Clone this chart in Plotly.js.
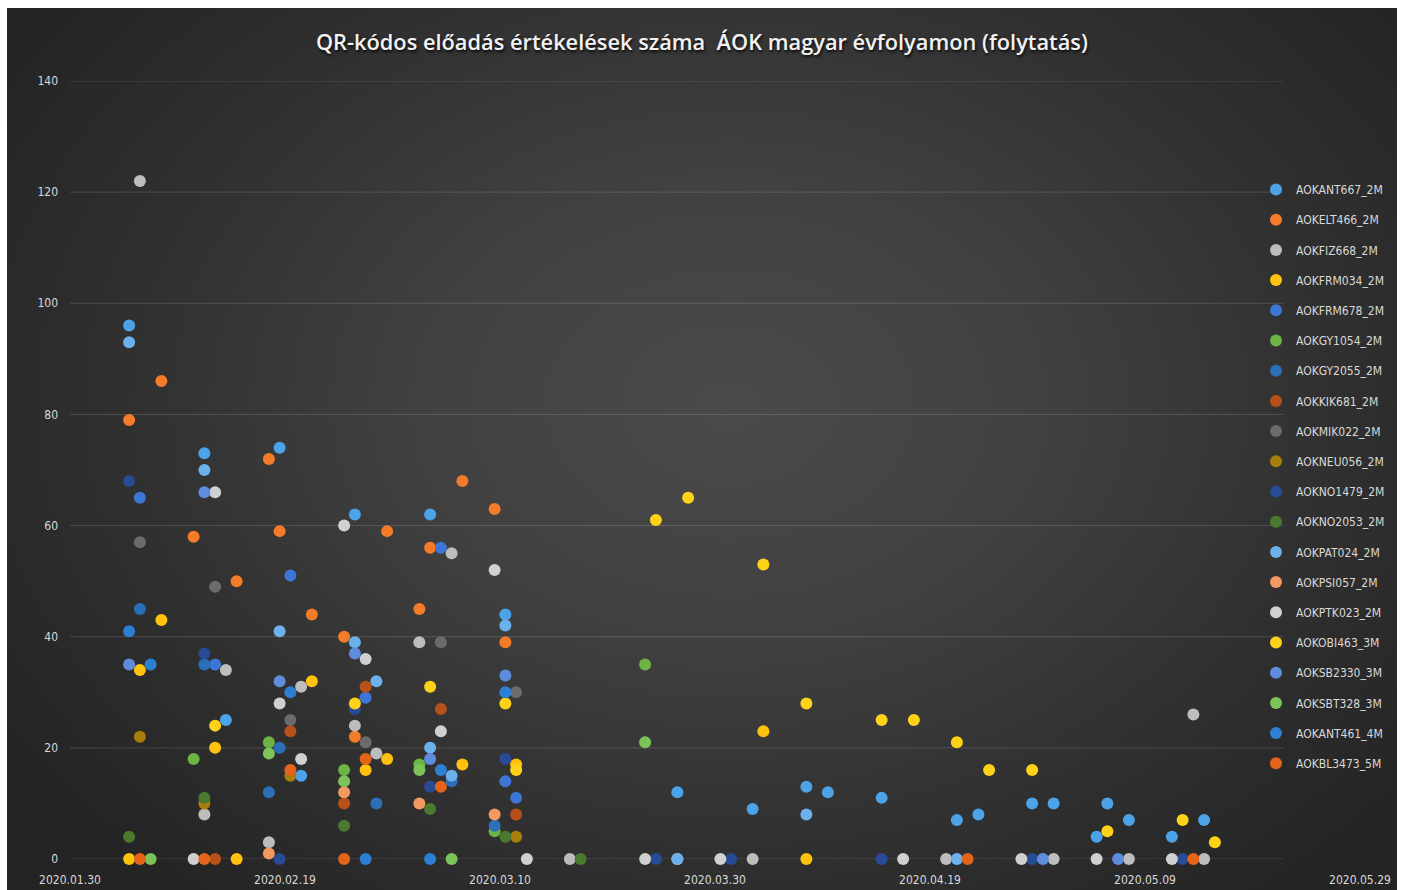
<!DOCTYPE html>
<html>
<head>
<meta charset="utf-8">
<script src="https://cdn.plot.ly/plotly-3.0.1.min.js"></script>
<style>
  html, body { margin: 0; padding: 0; background: #ffffff; overflow: hidden; }
  #bg {
    position: absolute; left: 7px; top: 8px; width: 1390px; height: 882px;
    background: radial-gradient(ellipse 62% 72% at 52% 45%, #4a4a4a 0%, #414141 35%, #303030 70%, #242424 100%);
  }
  #chart { position: absolute; left: 0; top: 0; width: 1401px; height: 890px; }
</style>
</head>
<body>
<div id="bg"></div>
<div id="chart"></div>
<script>
// ---------------- DATA ----------------
const chartTitle = 'QR-kódos előadás értékelések száma  ÁOK magyar évfolyamon (folytatás)';
const xTickLabels = ['2020.01.30', '2020.02.19', '2020.03.10', '2020.03.30', '2020.04.19', '2020.05.09', '2020.05.29'];
const yTickValues = [0, 20, 40, 60, 80, 100, 120, 140];

const seriesNames = ['AOKANT667_2M', 'AOKELT466_2M', 'AOKFIZ668_2M', 'AOKFRM034_2M', 'AOKFRM678_2M',
  'AOKGY1054_2M', 'AOKGY2055_2M', 'AOKKIK681_2M', 'AOKMIK022_2M', 'AOKNEU056_2M', 'AOKNO1479_2M',
  'AOKNO2053_2M', 'AOKPAT024_2M', 'AOKPSI057_2M', 'AOKPTK023_2M', 'AOKOBI463_3M', 'AOKSB2330_3M',
  'AOKSBT328_3M', 'AOKANT461_4M', 'AOKBL3473_5M'];

const AOKANT667_dates = ['2020-02-04','2020-02-11','2020-02-13','2020-02-18','2020-02-20','2020-02-25','2020-03-03','2020-03-10','2020-03-26','2020-04-02','2020-04-07','2020-04-09','2020-04-14','2020-04-21','2020-04-23','2020-04-28','2020-04-30','2020-05-04','2020-05-05','2020-05-07','2020-05-11','2020-05-14'];
const AOKANT667_vals  = [96, 73, 25, 74, 15, 62, 62, 44, 12, 9, 13, 12, 11, 7, 8, 10, 10, 4, 10, 7, 4, 7];

const AOKELT466_dates = ['2020-02-04','2020-02-07','2020-02-10','2020-02-14','2020-02-17','2020-02-18','2020-02-21','2020-02-24','2020-02-25','2020-02-28','2020-03-02','2020-03-03','2020-03-06','2020-03-09','2020-03-10'];
const AOKELT466_vals  = [79, 86, 58, 50, 72, 59, 44, 40, 22, 59, 45, 56, 68, 63, 39];

const AOKFIZ668_dates = ['2020-02-05','2020-02-11','2020-02-13','2020-02-17','2020-02-20','2020-02-25','2020-02-27','2020-03-02','2020-03-05','2020-03-16','2020-03-26','2020-04-02','2020-04-20','2020-04-30','2020-05-07','2020-05-13','2020-05-14'];
const AOKFIZ668_vals  = [122, 8, 34, 3, 31, 24, 19, 39, 55, 0, 0, 0, 0, 0, 0, 26, 0];

const AOKFRM034_dates = ['2020-02-04','2020-02-05','2020-02-07','2020-02-12','2020-02-14','2020-02-21','2020-02-26','2020-02-28','2020-03-06','2020-03-11','2020-04-03','2020-04-07'];
const AOKFRM034_vals  = [0, 34, 43, 20, 0, 32, 16, 18, 17, 17, 23, 0];

const AOKFRM678_dates = ['2020-02-05','2020-02-12','2020-02-19','2020-02-26','2020-03-04','2020-03-10','2020-03-11'];
const AOKFRM678_vals  = [65, 35, 51, 29, 56, 14, 11];

const AOKGY1054_dates = ['2020-02-10','2020-02-17','2020-02-24','2020-03-02','2020-03-09','2020-03-23'];
const AOKGY1054_vals  = [18, 21, 16, 17, 5, 35];

const AOKGY2055_dates = ['2020-02-05','2020-02-11','2020-02-17','2020-02-18','2020-02-27','2020-03-05','2020-03-09'];
const AOKGY2055_vals  = [45, 35, 12, 20, 10, 14, 6];

const AOKKIK681_dates = ['2020-02-12','2020-02-19','2020-02-24','2020-02-26','2020-03-04','2020-03-11'];
const AOKKIK681_vals  = [0, 23, 10, 31, 27, 8];

const AOKMIK022_dates = ['2020-02-05','2020-02-12','2020-02-19','2020-02-26','2020-03-04','2020-03-11'];
const AOKMIK022_vals  = [57, 49, 25, 21, 39, 30];

const AOKNEU056_dates = ['2020-02-05','2020-02-11','2020-02-19','2020-03-11'];
const AOKNEU056_vals  = [22, 10, 15, 4];

const AOKNO1479_dates = ['2020-02-04','2020-02-11','2020-02-18','2020-02-25','2020-03-03','2020-03-10','2020-03-24','2020-03-31','2020-04-14','2020-04-21','2020-04-28','2020-05-12'];
const AOKNO1479_vals  = [68, 37, 0, 27, 13, 18, 0, 0, 0, 0, 0, 0];

const AOKNO2053_dates = ['2020-02-04','2020-02-11','2020-02-24','2020-03-03','2020-03-10','2020-03-17'];
const AOKNO2053_vals  = [4, 11, 6, 9, 4, 0];

const AOKPAT024_dates = ['2020-02-04','2020-02-11','2020-02-18','2020-02-25','2020-02-27','2020-03-03','2020-03-05','2020-03-10','2020-03-26','2020-04-07','2020-04-21'];
const AOKPAT024_vals  = [93, 70, 41, 39, 32, 20, 15, 42, 0, 8, 0];

const AOKPSI057_dates = ['2020-02-17','2020-02-24','2020-03-02','2020-03-09'];
const AOKPSI057_vals  = [1, 12, 10, 8];

const AOKPTK023_dates = ['2020-02-10','2020-02-12','2020-02-18','2020-02-20','2020-02-24','2020-02-26','2020-03-04','2020-03-09','2020-03-12','2020-03-23','2020-03-30','2020-04-16','2020-04-27','2020-05-04','2020-05-11'];
const AOKPTK023_vals  = [0, 66, 28, 18, 60, 36, 23, 52, 0, 0, 0, 0, 0, 0, 0];

const AOKOBI463_dates = ['2020-02-12','2020-02-25','2020-03-03','2020-03-10','2020-03-11','2020-03-24','2020-03-27','2020-04-03','2020-04-07','2020-04-14','2020-04-17','2020-04-21','2020-04-24','2020-04-28','2020-05-05','2020-05-12','2020-05-15'];
const AOKOBI463_vals  = [24, 28, 31, 28, 16, 61, 65, 53, 28, 25, 25, 21, 16, 16, 5, 7, 3];

const AOKSB2330_dates = ['2020-02-04','2020-02-11','2020-02-18','2020-02-25','2020-03-03','2020-03-10','2020-04-29','2020-05-06'];
const AOKSB2330_vals  = [35, 66, 32, 37, 18, 33, 0, 0];

const AOKSBT328_dates = ['2020-02-06','2020-02-17','2020-02-24','2020-03-02','2020-03-05','2020-03-23'];
const AOKSBT328_vals  = [0, 19, 14, 16, 0, 21];

const AOKANT461_dates = ['2020-02-04','2020-02-06','2020-02-19','2020-02-26','2020-03-03','2020-03-04','2020-03-10'];
const AOKANT461_vals  = [41, 35, 30, 0, 0, 16, 30];

const AOKBL3473_dates = ['2020-02-05','2020-02-11','2020-02-19','2020-02-24','2020-02-26','2020-03-04','2020-04-22','2020-05-13'];
const AOKBL3473_vals  = [0, 0, 16, 0, 18, 13, 0, 0];

// ---------------- STYLE ----------------
const seriesColors = ['#4da3e8', '#f47b2a', '#bdbdbd', '#ffc20e', '#3e76d6', '#6cb444', '#2a6fb8', '#b8501a',
  '#6b6b6b', '#a77d0c', '#274b94', '#4b7a2e', '#6cb0ec', '#f29a62', '#d0d0d0', '#ffd21a', '#5f8cdc',
  '#7cc45a', '#2d7fd3', '#e4641a'];

const seriesData = [
  [AOKANT667_dates, AOKANT667_vals], [AOKELT466_dates, AOKELT466_vals], [AOKFIZ668_dates, AOKFIZ668_vals],
  [AOKFRM034_dates, AOKFRM034_vals], [AOKFRM678_dates, AOKFRM678_vals], [AOKGY1054_dates, AOKGY1054_vals],
  [AOKGY2055_dates, AOKGY2055_vals], [AOKKIK681_dates, AOKKIK681_vals], [AOKMIK022_dates, AOKMIK022_vals],
  [AOKNEU056_dates, AOKNEU056_vals], [AOKNO1479_dates, AOKNO1479_vals], [AOKNO2053_dates, AOKNO2053_vals],
  [AOKPAT024_dates, AOKPAT024_vals], [AOKPSI057_dates, AOKPSI057_vals], [AOKPTK023_dates, AOKPTK023_vals],
  [AOKOBI463_dates, AOKOBI463_vals], [AOKSB2330_dates, AOKSB2330_vals], [AOKSBT328_dates, AOKSBT328_vals],
  [AOKANT461_dates, AOKANT461_vals], [AOKBL3473_dates, AOKBL3473_vals]
];

const labelFont = '"DejaVu Sans Condensed", Roboto, sans-serif';

const traces = seriesNames.map((name, i) => ({
  type: 'scatter',
  mode: 'markers',
  name: name,
  legendgroup: name,
  x: seriesData[i][0],
  y: seriesData[i][1],
  cliponaxis: false,
  marker: { color: seriesColors[i], size: 12, line: { width: 0 } },
  hovertemplate: name + '<br>%{x|%Y.%m.%d}: %{y}<extra></extra>'
}));

// Excel date axis: each day occupies one slot; labels sit at the slot start.
function slotStart(label) {
  const p = label.split('.').map(Number);
  const t = Date.UTC(p[0], p[1] - 1, p[2]) - 12 * 3600 * 1000;
  return new Date(t).toISOString().slice(0, 16).replace('T', ' ');
}
const xTickVals = xTickLabels.map(slotStart);

// horizontal gridlines stop where the legend begins (as in the original)
const gridEnd = (1283 - 70) / 1290;
const gridShapes = yTickValues.map(v => ({
  type: 'line', layer: 'below', xref: 'paper', yref: 'y',
  x0: 0, x1: gridEnd, y0: v, y1: v,
  line: { color: 'rgba(255,255,255,0.15)', width: 1 }
}));

const layout = {
  width: 1401,
  height: 890,
  paper_bgcolor: 'rgba(0,0,0,0)',
  plot_bgcolor: 'rgba(0,0,0,0)',
  margin: { l: 70, r: 41, t: 81, b: 31, autoexpand: false },
  title: {
    text: chartTitle,
    x: 0.501, xref: 'container', xanchor: 'center',
    y: 1 - 42 / 890, yref: 'container', yanchor: 'middle',
    font: { family: '"Open Sans", "Noto Sans", sans-serif', size: 21.8, weight: 600, color: '#f2f2f2',
            shadow: '1px 2px 3px rgba(0,0,0,0.85)' }
  },
  showlegend: true,
  legend: {
    x: (1256 - 70) / 1290, xanchor: 'left',
    y: 1 - (175 - 81) / 778, yanchor: 'top',
    bgcolor: 'rgba(0,0,0,0)',
    borderwidth: 0,
    tracegroupgap: 11.2,
    font: { family: labelFont, size: 12, color: '#d9d9d9' },
    itemsizing: 'constant'
  },
  shapes: gridShapes,
  xaxis: {
    type: 'date',
    range: [slotStart('2020.01.30'), slotStart('2020.05.29')],
    tickmode: 'array',
    tickvals: xTickVals,
    ticktext: xTickLabels,
    showgrid: false,
    zeroline: false,
    showline: false,
    ticks: '',
    ticklabelstandoff: 12,
    tickfont: { family: labelFont, size: 12, color: '#d9d9d9' },
    fixedrange: true
  },
  yaxis: {
    range: [0, 140],
    tickmode: 'array',
    tickvals: yTickValues,
    showgrid: false,
    zeroline: false,
    showline: false,
    ticks: '',
    ticklabelstandoff: 11,
    tickfont: { family: labelFont, size: 12, color: '#d9d9d9' },
    fixedrange: true
  },
  hovermode: 'closest'
};

Plotly.newPlot('chart', traces, layout, { displayModeBar: false });
</script>
</body>
</html>
